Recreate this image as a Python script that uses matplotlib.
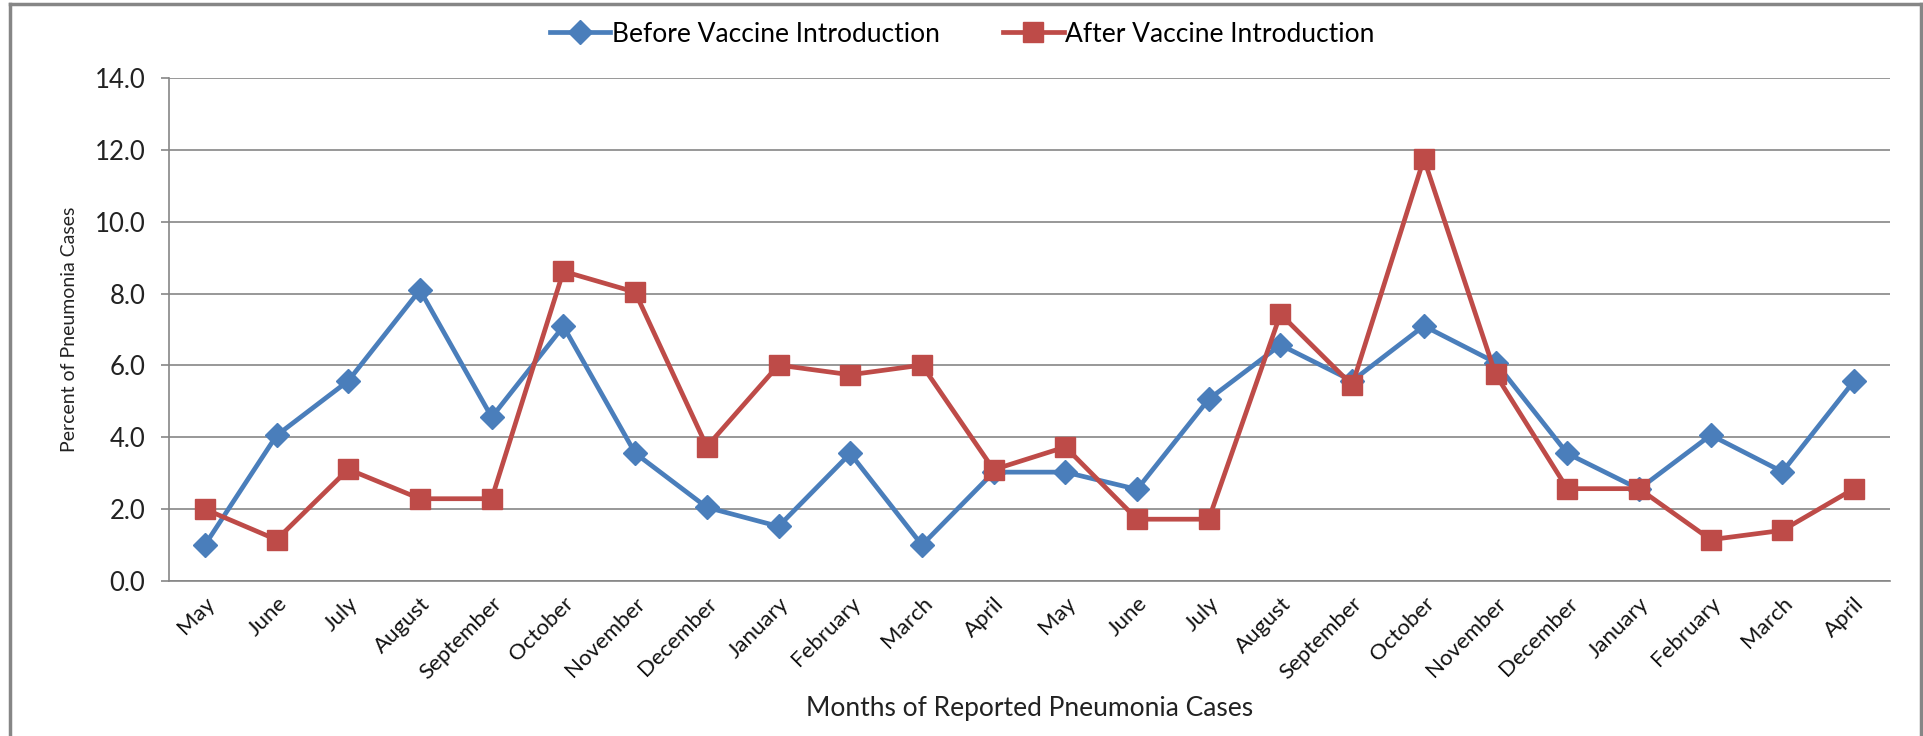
import matplotlib.pyplot as plt
from matplotlib.lines import Line2D

plt.rcParams['font.family'] = ['Lato', 'DejaVu Sans']

months = ["May", "June", "July", "August", "September", "October", "November",
          "December", "January", "February", "March", "April",
          "May", "June", "July", "August", "September", "October", "November",
          "December", "January", "February", "March", "April"]

before = [1.0, 4.05, 5.57, 8.1, 4.56, 7.09, 3.56, 2.05, 1.52, 3.55, 1.0, 3.03,
          3.03, 2.55, 5.06, 6.57, 5.57, 7.1, 6.08, 3.55, 2.56, 4.06, 3.04, 5.57]
after = [2.0, 1.15, 3.11, 2.29, 2.29, 8.62, 8.04, 3.74, 6.01, 5.74, 6.01, 3.1,
         3.73, 1.72, 1.72, 7.43, 5.45, 11.75, 5.75, 2.57, 2.57, 1.15, 1.41, 2.57]

yticks = [0, 2, 4, 6, 8, 10, 12, 14]

blue = "#4A7EBB"
red = "#BE4B48"
grey = "#868686"

fig = plt.figure(figsize=(19.24, 7.36), dpi=100)
ax = fig.add_axes([169 / 1924, 1 - 581 / 736, (1890 - 169) / 1924, (581 - 78) / 736])

x = range(len(months))
ax.plot(x, before, color=blue, lw=3.4, marker="D", ms=12, zorder=3)
ax.plot(x, after, color=red, lw=3.4, marker="s", ms=14, zorder=3)

ax.set_xlim(-0.5, len(months) - 0.5)
ax.set_ylim(0, 14)
ax.set_yticks(yticks)
ax.set_yticklabels([f"{v:.1f}" for v in yticks], fontsize=18.5, color="#222222")
ax.set_xticks(list(x))
ax.set_xticklabels(months, rotation=45, ha="right", rotation_mode="anchor",
                   fontsize=16, color="#111111")
ax.tick_params(axis="x", length=0, pad=9)
ax.tick_params(axis="y", length=6, width=1.2, color=grey, pad=11)
ax.yaxis.grid(True, color=grey, lw=1.2)
ax.set_axisbelow(True)
for s in ["top", "right"]:
    ax.spines[s].set_visible(False)
for s in ["left", "bottom"]:
    ax.spines[s].set_color(grey)
    ax.spines[s].set_linewidth(1.2)

ax.set_xlabel("Months of Reported Pneumonia Cases", fontsize=19, labelpad=9, color="#222222")
ax.set_ylabel("Percent of Pneumonia Cases", fontsize=14, labelpad=12, color="#222222")

handles = [Line2D([], [], color=blue, lw=3.4, marker="D", ms=12),
           Line2D([], [], color=red, lw=3.4, marker="s", ms=14)]
fig.legend(handles, ["Before Vaccine Introduction", "After Vaccine Introduction"],
           loc="center", bbox_to_anchor=(0.5, 1 - 34 / 736), ncol=2, frameon=False,
           fontsize=19, handlelength=2.3, handletextpad=0.05, columnspacing=2.4)

# outer chart border
fig.add_artist(Line2D([0.005, 0.005], [0, 0.994], color=grey, lw=2.5))
fig.add_artist(Line2D([0.005, 0.9985], [0.994, 0.994], color=grey, lw=2.5))
fig.add_artist(Line2D([0.9985, 0.9985], [0, 0.994], color=grey, lw=2.5))

fig.savefig("out.png", dpi=100)
